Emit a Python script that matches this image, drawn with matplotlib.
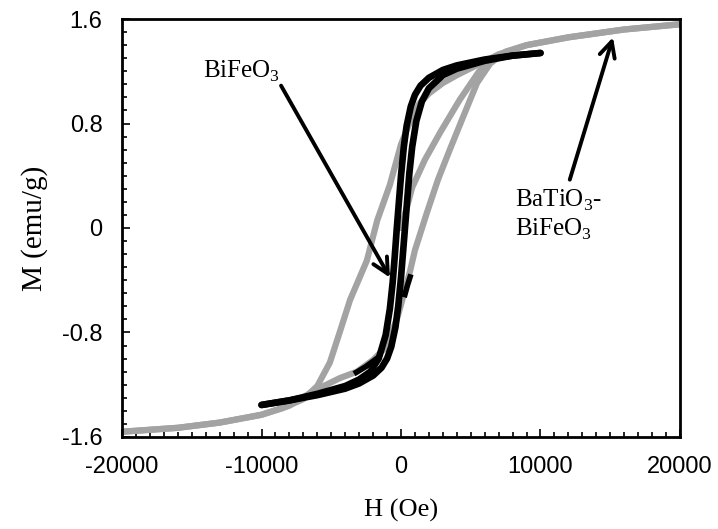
import matplotlib
matplotlib.use("Agg")
import matplotlib.pyplot as plt
from matplotlib.ticker import MultipleLocator, FixedLocator

plt.rcParams['axes.unicode_minus'] = False
plt.rcParams['mathtext.fontset'] = 'custom'
plt.rcParams['mathtext.rm'] = 'Liberation Serif'

# ---- Data ----
# BaTiO3-BiFeO3 (gray): descending branch
bt_down_H = [20000, 16000, 12000, 9000, 7000, 5500, 4000, 3000, 2000, 1300, 600, 0,
             -800, -1700, -2450, -3650, -4400, -5100, -6000, -7000, -8500, -10000,
             -13000, -16000, -20000]
bt_down_M = [1.56, 1.52, 1.46, 1.40, 1.33, 1.25, 1.17, 1.11, 1.03, 0.95, 0.80, 0.64,
             0.33, 0.06, -0.25, -0.55, -0.80, -1.03, -1.21, -1.31, -1.38, -1.43,
             -1.49, -1.53, -1.56]
# ascending branch
bt_up_H = [-20000, -16000, -13000, -10000, -8000, -6300, -4400, -3150, -2000, -1150,
           -300, 300, 650, 1000, 1850, 2650, 3500, 4450, 5450, 6400, 7500, 9000,
           12000, 16000, 20000]
bt_up_M = [-1.56, -1.53, -1.49, -1.43, -1.36, -1.25, -1.15, -1.10, -1.01, -0.92,
           -0.70, -0.47, -0.33, -0.17, 0.115, 0.37, 0.60, 0.85, 1.11, 1.26, 1.35, 1.40,
           1.46, 1.52, 1.56]
# initial magnetization curve
bt_init_H = [0, 400, 800, 1700, 2800, 4200, 5600, 6800]
bt_init_M = [0.0, 0.15, 0.31, 0.52, 0.73, 0.98, 1.20, 1.31]
# darker segments on the ascending branch
bt_dark1_H = [-3200, -2500, -1750]
bt_dark1_M = [-1.105, -1.06, -1.00]
bt_dark2_H = [280, 460, 650]
bt_dark2_M = [-0.51, -0.44, -0.375]

# BiFeO3 (black)
bf_down_H = [10000, 8000, 6000, 4000, 3000, 2000, 1400, 1000, 700, 400, 200, 0,
             -150, -300, -450, -600, -800, -1100, -1600, -2200, -3000, -4000,
             -6000, -8000, -10000]
bf_down_M = [1.34, 1.32, 1.29, 1.245, 1.21, 1.15, 1.09, 1.02, 0.93, 0.78, 0.62, 0.40,
             0.20, 0.00, -0.22, -0.42, -0.62, -0.82, -1.00, -1.10, -1.16, -1.21,
             -1.27, -1.32, -1.355]
bf_up_H = [-10000, -8000, -6000, -4000, -3000, -2000, -1400, -1000, -700, -400, -200,
           0, 150, 300, 450, 600, 800, 1100, 1500, 2000, 3000, 4000, 6000, 8000, 10000]
bf_up_M = [-1.355, -1.32, -1.28, -1.23, -1.19, -1.13, -1.07, -1.00, -0.91, -0.76,
           -0.60, -0.38, -0.18, 0.02, 0.22, 0.42, 0.62, 0.82, 0.97, 1.07, 1.17, 1.22,
           1.28, 1.32, 1.34]

x_ticks = [-20000, -10000, 0, 10000, 20000]
y_ticks = [-1.6, -0.8, 0, 0.8, 1.6]
y_ticklabels = ['-1.6', '-0.8', '0', '0.8', '1.6']

# ---- Figure ----
fig = plt.figure(figsize=(7.18, 5.29), dpi=100)
ax = fig.add_axes([0.170, 0.174, 0.777, 0.790])

gray = '#a3a3a3'
for h, m in [(bt_down_H, bt_down_M), (bt_up_H, bt_up_M), (bt_init_H, bt_init_M)]:
    ax.plot(h, m, color=gray, lw=4.5, solid_capstyle='round', solid_joinstyle='round', zorder=2)

for h, m in [(bf_down_H, bf_down_M), (bf_up_H, bf_up_M)]:
    ax.plot(h, m, color='black', lw=4.8, solid_capstyle='round', solid_joinstyle='round', zorder=3)
ax.plot(bt_dark1_H, bt_dark1_M, color='black', lw=4, zorder=3)
ax.plot(bt_dark2_H, bt_dark2_M, color='black', lw=4, zorder=3)

ax.set_xlim(-20000, 20000)
ax.set_ylim(-1.6, 1.6)
ax.xaxis.set_major_locator(FixedLocator(x_ticks))
ax.xaxis.set_minor_locator(MultipleLocator(1000))
ax.yaxis.set_major_locator(FixedLocator(y_ticks))
ax.yaxis.set_minor_locator(MultipleLocator(0.1))
ax.set_yticklabels(y_ticklabels)
ax.set_xticklabels([str(v) for v in x_ticks])

ax.tick_params(which='both', direction='in', top=False, right=False, width=1.2)
ax.tick_params(which='major', length=6, labelsize=17, pad=14)
ax.tick_params(which='minor', length=3.5)
for lab in ax.get_xticklabels() + ax.get_yticklabels():
    lab.set_family('Liberation Sans')
for s in ax.spines.values():
    s.set_linewidth(2)

serif = 'Liberation Serif'
ax.set_xlabel('H (Oe)', family=serif, fontsize=19, labelpad=15)
ax.set_ylabel('M (emu/g)', family=serif, fontsize=21, labelpad=10)

arrow = dict(arrowstyle='->', lw=2.8, color='black', mutation_scale=28,
             shrinkA=0, shrinkB=0)
ax.annotate('', xy=(-790, -0.38), xytext=(-8600, 1.09), arrowprops=arrow, zorder=5)
ax.annotate('', xy=(15200, 1.46), xytext=(12100, 0.37), arrowprops=arrow, zorder=5)

ax.text(-11400, 1.20, r'BiFeO$_\mathregular{3}$', family=serif, fontsize=18,
        ha='center', va='center')
ax.text(8150, 0.21, r'BaTiO$_\mathregular{3}$-', family=serif, fontsize=18,
        ha='left', va='center')
ax.text(8150, -0.01, r'BiFeO$_\mathregular{3}$', family=serif, fontsize=18,
        ha='left', va='center')

fig.savefig('out.png', dpi=100)
